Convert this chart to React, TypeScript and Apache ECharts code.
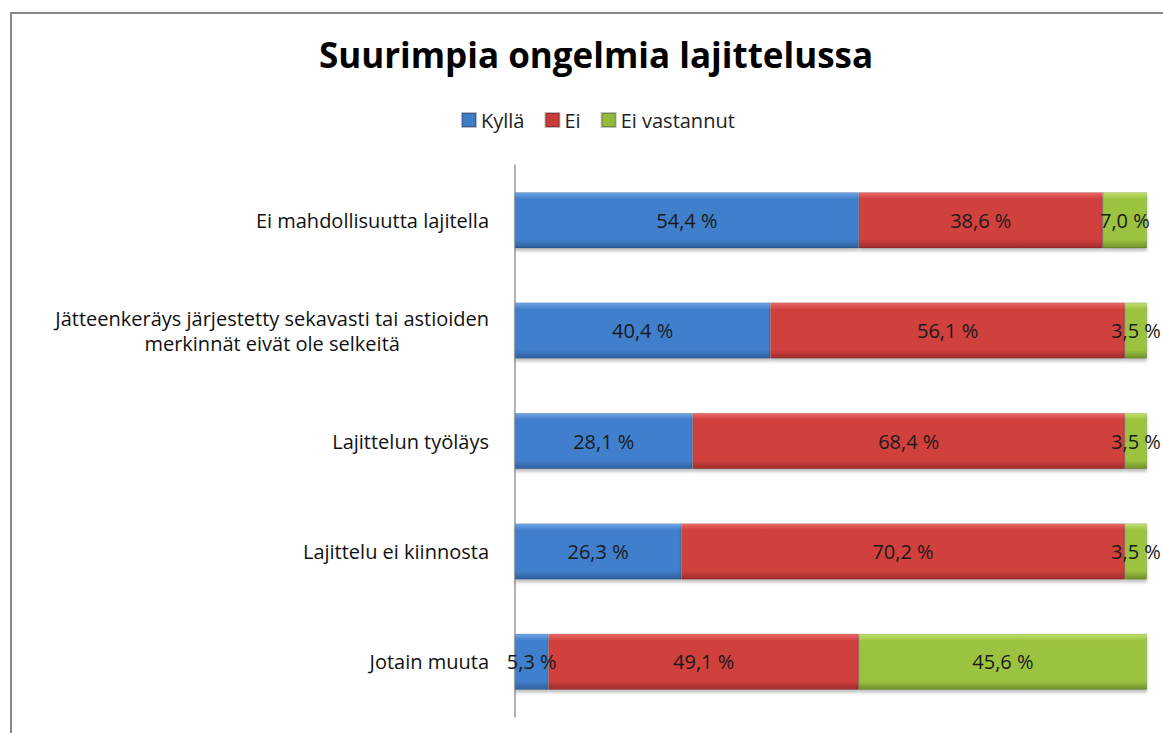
import React, { useEffect, useRef } from "react";
import * as echarts from "echarts";

const categories = [
  "Ei mahdollisuutta lajitella",
  "Jätteenkeräys järjestetty sekavasti tai astioiden\nmerkinnät eivät ole selkeitä",
  "Lajittelun työläys",
  "Lajittelu ei kiinnosta",
  "Jotain muuta",
];
const seriesNames = ["Kyllä", "Ei", "Ei vastannut"];
const kylla = [54.4, 40.4, 28.1, 26.3, 5.3];
const ei = [38.6, 56.1, 68.4, 70.2, 49.1];
const eiVastannut = [7.0, 3.5, 3.5, 3.5, 45.6];

const grad = (top: string, mid: string, bottom: string) =>
  new echarts.graphic.LinearGradient(0, 0, 0, 1, [
    { offset: 0, color: top },
    { offset: 0.12, color: mid },
    { offset: 0.85, color: mid },
    { offset: 1, color: bottom },
  ]);

const styles = [
  { color: grad("#6fa6e6", "#417fcb", "#2f5f9c"), legend: "#3f7cc6" },
  { color: grad("#ea6a66", "#d0403e", "#9e2c2a"), legend: "#c93d3b" },
  { color: grad("#c2e06e", "#9cc341", "#6f8f2a"), legend: "#94bb3e" },
];

export default function App() {
  const ref = useRef<HTMLDivElement>(null);
  useEffect(() => {
    if (!ref.current) return;
    const chart = echarts.init(ref.current, null, { renderer: "svg" });
    const font = "'Open Sans', 'Noto Sans', sans-serif";
    const dataSets = [kylla, ei, eiVastannut];
    chart.setOption({
      animation: false,
      backgroundColor: "#ffffff",
      textStyle: { fontFamily: font },
      title: {
        text: "Suurimpia ongelmia lajittelussa",
        left: 591,
        textAlign: "center",
        top: 32,
        textStyle: { fontSize: 35, fontWeight: "bold", color: "#000", fontFamily: font },
      },
      legend: {
        data: seriesNames.map((n, i) => ({
          name: n,
          itemStyle: { color: styles[i].legend },
        })),
        top: 105,
        left: 456,
        icon: "rect",
        itemWidth: 14,
        itemHeight: 14,
        itemGap: 20,
        textStyle: { fontSize: 20, color: "#222", fontFamily: font },
      },
      graphic: [
        {
          type: "rect",
          shape: { x: 11, y: 13, width: 1200, height: 800 },
          style: { fill: "none", stroke: "#888888", lineWidth: 2 },
          silent: true,
        },
      ],
      grid: { left: 515, right: 16, top: 165, bottom: 16, containLabel: false },
      xAxis: {
        type: "value",
        min: 0,
        max: 100,
        show: false,
      },
      yAxis: {
        type: "category",
        inverse: true,
        data: categories,
        axisLine: { show: true, lineStyle: { color: "#999", width: 1.5 } },
        axisTick: { show: false },
        axisLabel: {
          margin: 26,
          fontSize: 20,
          color: "#111",
          fontFamily: font,
          formatter: (v: string) =>
            v.split("\n").map((l) => `{c|${l}}`).join("\n"),
          rich: {
            c: { align: "center", fontSize: 20, lineHeight: 25, color: "#111", fontFamily: font },
          },
        },
      },
      series: dataSets.map((d, i) => ({
        name: seriesNames[i],
        type: "bar",
        stack: "total",
        barWidth: 56,
        data: d,
        itemStyle: {
          color: styles[i].color,
          borderColor: "rgba(0,0,0,0.25)",
          borderWidth: 0.5,
          shadowColor: "rgba(0,0,0,0.25)",
          shadowBlur: 3,
          shadowOffsetY: 3,
        },
        label: {
          show: true,
          position: "inside",
          fontSize: 20,
          color: "#1a1a1a",
          fontFamily: font,
          formatter: (p: any) => p.value.toFixed(1).replace(".", ",") + " %",
        },
        emphasis: { disabled: true },
      })),
    });
    return () => chart.dispose();
  }, []);
  return (
    <div
      ref={ref}
      style={{ position: "fixed", left: 0, top: 0, width: 1163, height: 733 }}
    />
  );
}
